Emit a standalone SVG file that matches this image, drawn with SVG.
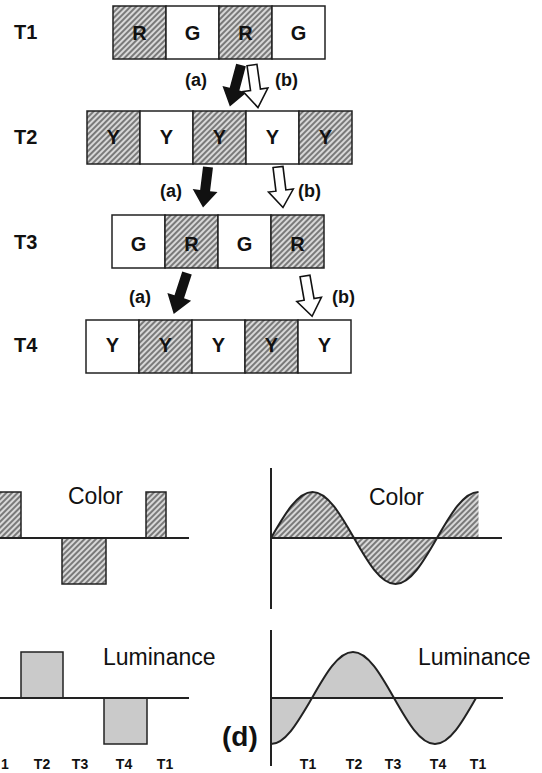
<svg xmlns="http://www.w3.org/2000/svg" width="542" height="773" viewBox="0 0 542 773">
<defs>
<pattern id="hatch" width="4" height="4" patternUnits="userSpaceOnUse" patternTransform="rotate(45)">
<rect width="4" height="4" fill="#d8d8d8"/>
<line x1="1" y1="0" x2="1" y2="4" stroke="#3a3a3a" stroke-width="1.2"/>
</pattern>
<path id="arr" d="M-5,0 L5,0 L5,25 L12.5,25 L0,43 L-12.5,25 L-5,25 Z"/>
</defs>
<style>
.lbl{font-family:"Liberation Sans",Arial,Helvetica,sans-serif;font-weight:bold;fill:#111}
.big{font-size:20px}
.cell{font-size:20px;text-anchor:middle}
.ab{font-size:18px}
.axl{font-size:14px;text-anchor:middle}
.name{font-family:"Liberation Sans",Arial,Helvetica,sans-serif;font-size:23px;fill:#111}
.h{fill:url(#hatch);stroke:#222;stroke-width:1.5}
.w{fill:#fff;stroke:#222;stroke-width:1.5}
.g{fill:#cacaca;stroke:#222;stroke-width:1.5}
.ax{stroke:#222;stroke-width:2;fill:none}
.blk{fill:#111}
.wht{fill:#fff;stroke:#111;stroke-width:1.6;stroke-linejoin:miter}
</style>
<rect width="542" height="773" fill="#fff"/>

<g id="T1">
<text class="lbl big" x="14" y="39">T1</text>
<rect class="h" x="113" y="6" width="53" height="53"/>
<rect class="w" x="166" y="6" width="53" height="53"/>
<rect class="h" x="219" y="6" width="53" height="53"/>
<rect class="w" x="272" y="6" width="53" height="53"/>
<text class="lbl cell" x="139.5" y="40">R</text>
<text class="lbl cell" x="192.5" y="40">G</text>
<text class="lbl cell" x="245.5" y="40">R</text>
<text class="lbl cell" x="298.5" y="40">G</text>
</g>

<g id="T2">
<text class="lbl big" x="14" y="144">T2</text>
<rect class="h" x="87" y="111" width="53" height="53"/>
<rect class="w" x="140" y="111" width="53" height="53"/>
<rect class="h" x="193" y="111" width="53" height="53"/>
<rect class="w" x="246" y="111" width="53" height="53"/>
<rect class="h" x="299" y="111" width="53" height="53"/>
<text class="lbl cell" x="113.5" y="144">Y</text>
<text class="lbl cell" x="166.5" y="144">Y</text>
<text class="lbl cell" x="219.5" y="144">Y</text>
<text class="lbl cell" x="272.5" y="144">Y</text>
<text class="lbl cell" x="325.5" y="144">Y</text>
</g>

<g id="T3">
<text class="lbl big" x="14" y="249">T3</text>
<rect class="w" x="112" y="215" width="53" height="53"/>
<rect class="h" x="165" y="215" width="53" height="53"/>
<rect class="w" x="218" y="215" width="53" height="53"/>
<rect class="h" x="271" y="215" width="53" height="53"/>
<text class="lbl cell" x="138.5" y="251">G</text>
<text class="lbl cell" x="191.5" y="251">R</text>
<text class="lbl cell" x="244.5" y="251">G</text>
<text class="lbl cell" x="297.5" y="251">R</text>
</g>

<g id="T4">
<text class="lbl big" x="14" y="352">T4</text>
<rect class="w" x="86" y="320" width="53" height="53"/>
<rect class="h" x="139" y="320" width="53" height="53"/>
<rect class="w" x="192" y="320" width="53" height="53"/>
<rect class="h" x="245" y="320" width="53" height="53"/>
<rect class="w" x="298" y="320" width="53" height="53"/>
<text class="lbl cell" x="112.5" y="352">Y</text>
<text class="lbl cell" x="165.5" y="352">Y</text>
<text class="lbl cell" x="218.5" y="352">Y</text>
<text class="lbl cell" x="271.5" y="352">Y</text>
<text class="lbl cell" x="324.5" y="352">Y</text>
</g>

<g id="connectors">
<use href="#arr" class="blk" transform="translate(241,65) rotate(15)"/>
<use href="#arr" class="wht" transform="translate(252,65) rotate(-8)"/>
<text class="lbl ab" x="185" y="86">(a)</text>
<text class="lbl ab" x="275" y="86">(b)</text>

<use href="#arr" class="blk" transform="translate(208,167) rotate(7) scale(1,0.95)"/>
<use href="#arr" class="wht" transform="translate(278,167) rotate(-7) scale(1,0.95)"/>
<text class="lbl ab" x="160" y="197">(a)</text>
<text class="lbl ab" x="298" y="197">(b)</text>

<use href="#arr" class="blk" transform="translate(187,273) rotate(18)"/>
<use href="#arr" class="wht" transform="translate(305,276) rotate(-10) scale(1,0.95)"/>
<text class="lbl ab" x="129" y="303">(a)</text>
<text class="lbl ab" x="332" y="303">(b)</text>
</g>

<g id="left-color">
<rect class="h" x="-5" y="492" width="26" height="46"/>
<rect class="h" x="62" y="538" width="44" height="46"/>
<rect class="h" x="146" y="492" width="20" height="46"/>
<line class="ax" x1="0" y1="538" x2="189" y2="538"/>
<text class="name" x="68" y="504">Color</text>
</g>

<g id="left-luminance">
<rect class="g" x="21" y="652" width="42" height="46"/>
<rect class="g" x="104" y="698" width="43" height="46"/>
<line class="ax" x1="0" y1="698" x2="189" y2="698"/>
<text class="name" x="103" y="665">Luminance</text>
<text class="lbl axl" x="5" y="769">1</text>
<text class="lbl axl" x="42" y="769">T2</text>
<text class="lbl axl" x="80" y="769">T3</text>
<text class="lbl axl" x="124" y="769">T4</text>
<text class="lbl axl" x="165" y="769">T1</text>
</g>

<g id="right-color">
<path d="M271,538 C284.53,514.43 297.48,492 312.5,492 C327.52,492 340.47,514.43 354,538 C367.53,561.57 380.48,584 395.5,584 C410.52,584 423.47,561.57 437,538 C450.53,514.43 463.48,492 478.5,492 L478.5,538 Z" fill="url(#hatch)" stroke="none"/>
<path d="M271,538 C284.53,514.43 297.48,492 312.5,492 C327.52,492 340.47,514.43 354,538 C367.53,561.57 380.48,584 395.5,584 C410.52,584 423.47,561.57 437,538 C450.53,514.43 463.48,492 478.5,492" class="ax"/>
<line class="ax" x1="271" y1="468" x2="271" y2="609"/>
<line class="ax" x1="271" y1="538" x2="502" y2="538"/>
<text class="name" x="369" y="505">Color</text>
</g>

<g id="right-luminance">
<path d="M271,698 L271,744 C285.84,744 298.63,720.43 312,698 C325.37,674.43 338.16,652 353,652 C367.84,652 380.63,674.43 394,698 C407.37,721.57 420.16,744 435,744 C449.84,744 462.63,721.57 476,698 Z" fill="#cacaca" stroke="none"/>
<path d="M271,744 C285.84,744 298.63,720.43 312,698 C325.37,674.43 338.16,652 353,652 C367.84,652 380.63,674.43 394,698 C407.37,721.57 420.16,744 435,744 C449.84,744 462.63,721.57 476,698" class="ax"/>
<line class="ax" x1="271" y1="630" x2="271" y2="766"/>
<line class="ax" x1="271" y1="698" x2="503" y2="698"/>
<text class="name" x="418" y="665">Luminance</text>
<text class="lbl" x="222" y="746" style="font-size:28px">(d)</text>
<text class="lbl axl" x="308" y="769">T1</text>
<text class="lbl axl" x="354" y="769">T2</text>
<text class="lbl axl" x="393" y="769">T3</text>
<text class="lbl axl" x="438" y="769">T4</text>
<text class="lbl axl" x="478" y="769">T1</text>
</g>
</svg>
